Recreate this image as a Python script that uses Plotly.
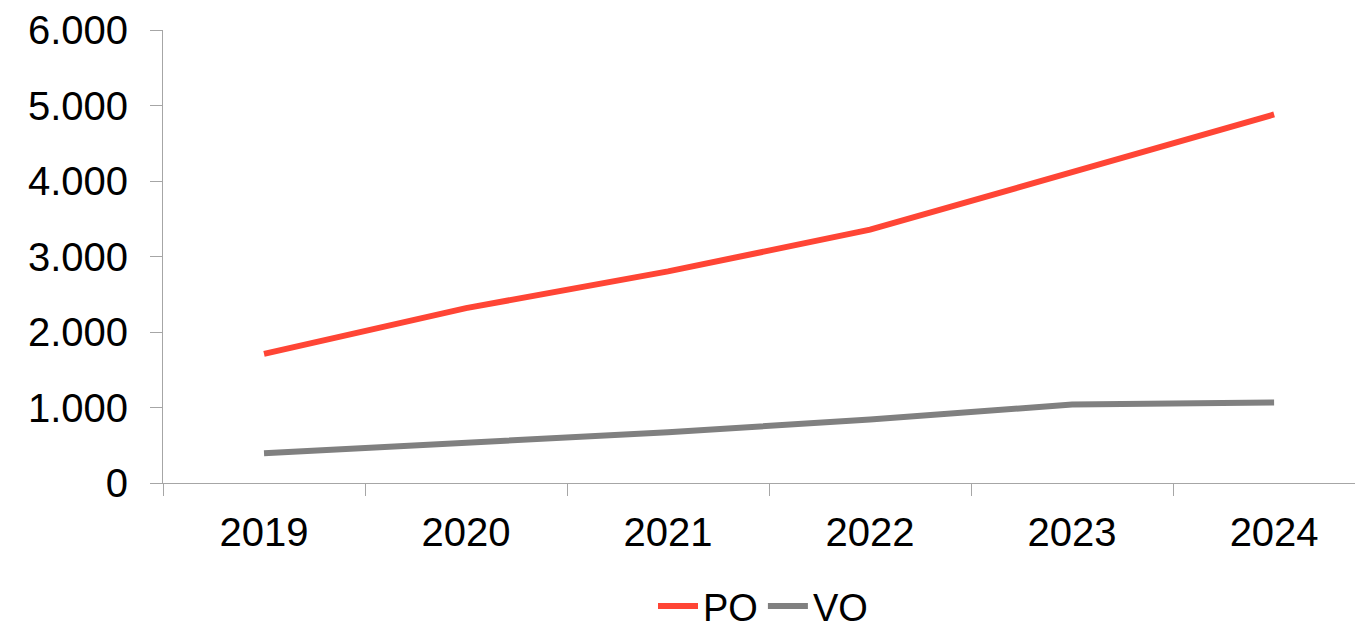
import plotly.graph_objects as go

years = ["2019", "2020", "2021", "2022", "2023", "2024"]
po = [1711, 2316, 2803, 3355, 4118, 4882]
vo = [395, 526, 671, 842, 1039, 1066]

font = "Liberation Sans, Arial, sans-serif"

fig = go.Figure()
fig.add_trace(go.Scatter(x=years, y=po, name="PO", mode="lines",
                         line=dict(color="#FF4535", width=6)))
fig.add_trace(go.Scatter(x=years, y=vo, name="VO", mode="lines",
                         line=dict(color="#808080", width=6)))

fig.update_layout(
    width=1355, height=622,
    margin=dict(l=155, r=0, t=22, b=147, autoexpand=False),
    paper_bgcolor="white", plot_bgcolor="white",
    separators=",.",
    font=dict(family=font, size=40, color="black"),
    showlegend=True,
    legend=dict(orientation="h", x=0.5, xanchor="center", y=-0.272, yanchor="middle",
                font=dict(size=38), itemwidth=40, tracegroupgap=0),
)
fig.update_xaxes(
    type="category", range=[-0.5, 5.44],
    showline=True, linecolor="#A6A6A6", linewidth=1,
    showgrid=False, zeroline=False,
    ticks="outside", tickson="boundaries", ticklen=12, tickcolor="#A6A6A6",
    tickfont=dict(size=40), ticklabelstandoff=14, ticklabeloverflow="allow",
)
fig.update_yaxes(
    range=[0, 6000], dtick=1000, tickformat=",",
    showline=True, linecolor="#A6A6A6", linewidth=1,
    showgrid=False, zeroline=False,
    ticks="outside", ticklen=12, tickcolor="#A6A6A6",
    tickfont=dict(size=40), ticklabelstandoff=14, ticklabeloverflow="allow",
)

fig.write_html("out.html")
